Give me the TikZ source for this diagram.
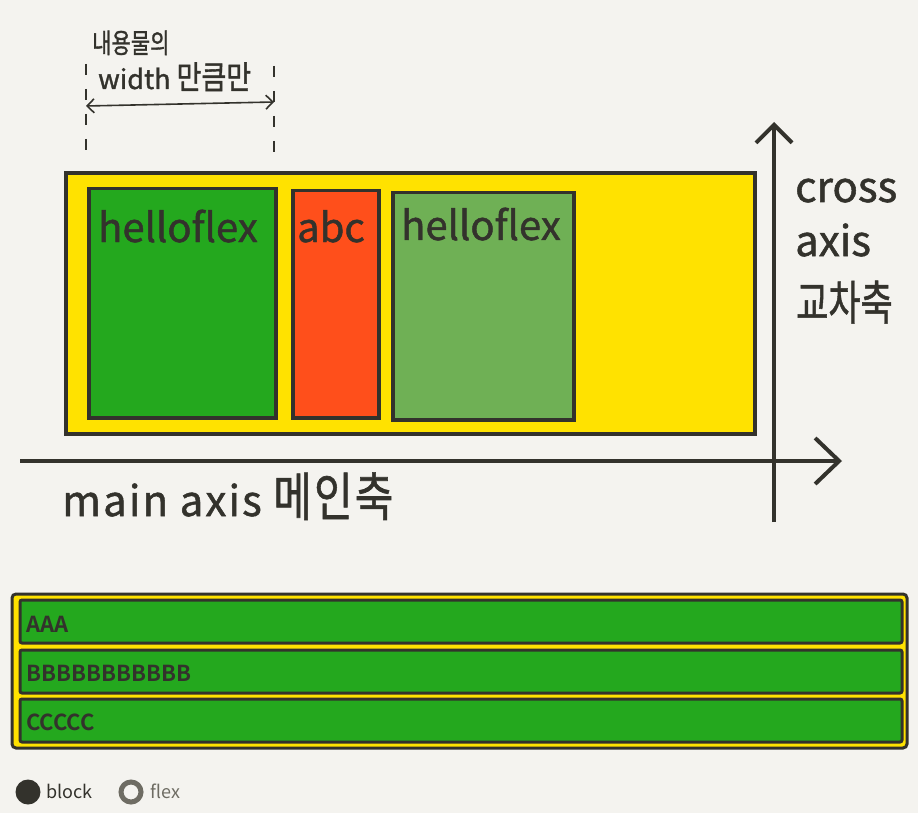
\documentclass[tikz,border=0pt]{standalone}
\usepackage{fontspec}
\usepackage{graphicx}
\setmainfont{Noto Sans CJK KR}
\newfontfamily\hand[FakeBold=1.2]{Noto Sans CJK KR}
\newfontfamily\ui[BoldFont={Noto Sans CJK KR Bold}]{Noto Sans CJK KR}
\usetikzlibrary{arrows.meta}
\definecolor{bg}{HTML}{F4F3EF}
\definecolor{ink}{HTML}{33322C}
\definecolor{yel}{HTML}{FFE200}
\definecolor{grn}{HTML}{24A81E}
\definecolor{red}{HTML}{FF4F1B}
\definecolor{lgrn}{HTML}{6FB055}
\definecolor{gry}{HTML}{6E6C63}
\tikzset{
  inkline/.style={draw=ink, line width=4pt},
  item/.style={draw=ink, line width=3.5pt},
  handtxt/.style={text=ink, font=\hand\fontsize{40}{40}\selectfont, inner sep=0pt, anchor=base west},
  rowbox/.style={draw=ink, line width=3pt, fill=grn, rounded corners=2pt},
  rowtxt/.style={text=ink, font=\ui\bfseries\fontsize{22}{22}\selectfont, inner sep=0pt, anchor=base west},
  axisarrow/.style={draw=ink, line width=4pt, -{Straight Barb[length=24pt, width=46pt, line width=4pt]}},
  dashline/.style={draw=ink, line width=1.8pt, dash pattern=on 11pt off 14pt},
}
\begin{document}
\begin{tikzpicture}[x=1pt, y=-1pt]
\fill[bg] (0,0) rectangle (918,813);
\useasboundingbox (0,0) rectangle (918,813);
% top diagram container
\path[inkline, fill=yel] (66,173) rectangle (755,434);
\node[item, fill=grn, minimum width=187pt, minimum height=229pt, anchor=north west, inner sep=0pt] (b1) at (87,187) {};
\node[item, fill=red, minimum width=86pt, minimum height=227pt, anchor=north west, inner sep=0pt] (b2) at (291,189) {};
\node[item, fill=lgrn, minimum width=181pt, minimum height=227pt, anchor=north west, inner sep=0pt] (b3) at (391,191) {};
\node[handtxt] (t1) at (98,242) {helloflex};
\node[handtxt] (t2) at (297,242) {abc};
\node[handtxt] (t3) at (401,240) {helloflex};
% width annotation
\coordinate (dl1) at (86,64); \coordinate (dl2) at (86,162);
\coordinate (dr1) at (274,66); \coordinate (dr2) at (274,166);
\draw[dashline] (dl1) -- (dl2);
\draw[dashline] (dr1) -- (dr2);
\coordinate (wa) at (86,106); \coordinate (wb) at (274,102);
\draw[ink, line width=1.6pt, {Straight Barb[length=7pt,width=14pt]}-{Straight Barb[length=7pt,width=14pt]}] (wa) -- (wb);
\node[handtxt, font=\hand\fontsize{21}{21}\selectfont] (w1) at (92,53) {\scalebox{1}[1.3]{내용물의}};
\node[handtxt, font=\hand\fontsize{27}{27}\selectfont] (w2) at (98,89) {width \scalebox{1}[1.2]{만큼만}};
% axes
\coordinate (h0) at (20,461); \coordinate (h1) at (842,461);
\coordinate (v0) at (774,522); \coordinate (v1) at (774,122);
\draw[axisarrow] (h0) -- (h1);
\draw[axisarrow, -{Straight Barb[length=18pt, width=36pt, line width=4pt]}] (v0) -- (v1);
\node[handtxt, font=\hand\fontsize{42}{42}\selectfont] (c1) at (795,202) {cross};
\node[handtxt, font=\hand\fontsize{42}{42}\selectfont] (c2) at (795,256) {axis};
\node[handtxt, font=\hand\fontsize{35}{35}\selectfont] (c3) at (796,320) {\scalebox{1}[1.35]{교차축}};
\node[handtxt, font=\hand\fontsize{42}{42}\selectfont\addfontfeature{LetterSpace=5}] (m1) at (62,516) {main axis \scalebox{1}[1.25]{메인축}};
% bottom flex demo
\path[draw=ink, line width=3pt, fill=yel, rounded corners=4pt] (12,594) rectangle (907,748);
\path[rowbox] (20,600) rectangle (902,643);
\path[rowbox] (20,650) rectangle (902,693);
\path[rowbox] (20,699) rectangle (902,742);
\node[rowtxt] (r1) at (26,632) {AAA};
\node[rowtxt] (r2) at (26,681) {BBBBBBBBBBB};
\node[rowtxt] (r3) at (26,730) {CCCCC};
% radio buttons
\node[circle, fill=ink, minimum size=25pt, inner sep=0pt] (rb1) at (28,792) {};
\node[text=ink, font=\ui\fontsize{18}{18}\selectfont, inner sep=0pt, anchor=base west] (lb1) at (46,798) {block};
\node[circle, draw=gry, line width=5pt, fill=bg, minimum size=20pt, inner sep=0pt] (rb2) at (131,792) {};
\node[text=gry, font=\ui\fontsize{18}{18}\selectfont, inner sep=0pt, anchor=base west] (lb2) at (150,798) {flex};
\end{tikzpicture}
\end{document}
